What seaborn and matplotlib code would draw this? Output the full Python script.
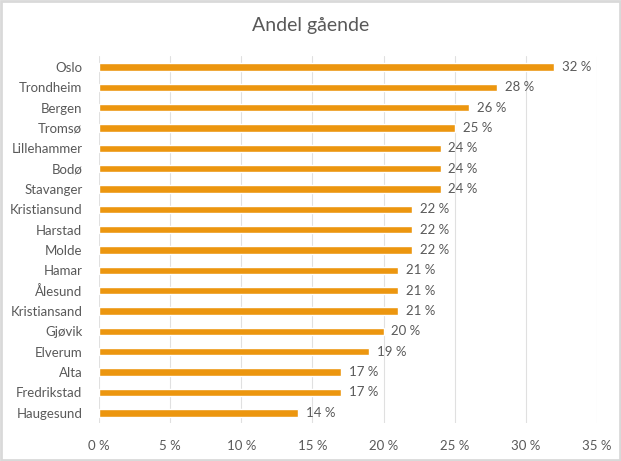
import matplotlib
matplotlib.use("Agg")
import matplotlib.pyplot as plt
import seaborn as sns
import pandas as pd
from matplotlib.patches import Rectangle

cities = ["Oslo", "Trondheim", "Bergen", "Tromsø", "Lillehammer", "Bodø", "Stavanger",
          "Kristiansund", "Harstad", "Molde", "Hamar", "Ålesund", "Kristiansand",
          "Gjøvik", "Elverum", "Alta", "Fredrikstad", "Haugesund"]
shares = [32, 28, 26, 25, 24, 24, 24, 22, 22, 22, 21, 21, 21, 20, 19, 17, 17, 14]
x_ticks = [0, 5, 10, 15, 20, 25, 30, 35]

BAR_COLOR = "#EC960F"
TEXT_COLOR = "#595959"
GRID_COLOR = "#E0E0E0"

sns.set_theme(style="white")
plt.rcParams["font.family"] = ["Lato", "DejaVu Sans"]

df = pd.DataFrame({"city": cities, "share": shares})

fig = plt.figure(figsize=(6.21, 4.61), dpi=100, facecolor="white")
ax = fig.add_axes([0.1594, 0.0824, 0.802, 0.7968])

sns.barplot(data=df, y="city", x="share", orient="h", color=BAR_COLOR,
            saturation=1, width=0.36, ax=ax, zorder=3)

ax.set_xlim(0, 35)
ax.set_ylim(17.5, -0.55)
ax.set_xticks(x_ticks)
ax.set_xticklabels([f"{t} %" for t in x_ticks])
ax.set_xlabel("")
ax.set_ylabel("")
ax.grid(axis="x", color=GRID_COLOR, linewidth=0.8, zorder=0)
ax.grid(axis="y", visible=False)
for spine in ax.spines.values():
    spine.set_visible(False)
ax.tick_params(axis="both", length=0, labelsize=9.5, labelcolor=TEXT_COLOR)
ax.tick_params(axis="x", pad=12)
ax.tick_params(axis="y", pad=12)

for i, v in enumerate(shares):
    ax.text(v + 0.55, i, f"{v} %", va="center", ha="left", fontsize=9.5, color=TEXT_COLOR)

fig.text(0.5, 0.944, "Andel gående", ha="center", va="center", fontsize=14, color=TEXT_COLOR)

fig.patches.append(Rectangle((0.002, 0.002), 0.996, 0.996, transform=fig.transFigure,
                             fill=False, edgecolor="#D9D9D9", linewidth=2))

fig.savefig("out.png", dpi=100, facecolor="white")
plt.close(fig)
